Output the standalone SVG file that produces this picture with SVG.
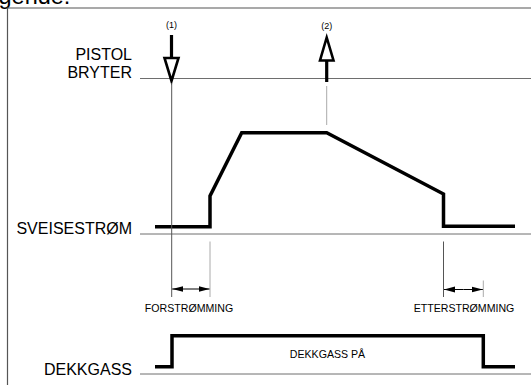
<svg xmlns="http://www.w3.org/2000/svg" width="531" height="385" viewBox="0 0 531 385">
<defs>
<style>
.frame{stroke:#555;stroke-width:1.2;fill:none}
.axis{stroke:#6e6e6e;stroke-width:1;fill:none}
.ext{stroke:#555;stroke-width:1;fill:none}
.ext2{stroke:#aaa;stroke-width:1;fill:none}
.trace{stroke:#000;stroke-width:3.5;fill:none;stroke-linejoin:miter}
.shaft{stroke:#000;stroke-width:3.2;fill:none}
.head{stroke:#000;stroke-width:2.6;fill:#fff;stroke-linejoin:miter}
.dim{stroke:#000;stroke-width:1;fill:none}
.lbl{font-family:"Liberation Sans",Arial,sans-serif;font-size:16px;fill:#000}
.sm{font-family:"Liberation Sans",Arial,sans-serif;font-size:10.6px;fill:#000}
.tiny{font-family:"Liberation Sans",Arial,sans-serif;font-size:9px;fill:#000}
</style>
<marker id="ah" viewBox="0 0 11 7" refX="11" refY="3.5" markerWidth="11" markerHeight="7" markerUnits="userSpaceOnUse" orient="auto">
<path d="M0,0.6 L11,3.5 L0,6.4 Z" fill="#000"/>
</marker>
</defs>
<text x="-1.5" y="4" font-family="Liberation Sans, Arial, sans-serif" font-size="23.5" fill="#000">gende:</text>
<path class="frame" d="M7.5,385 V8 H531"/>
<g id="axes">
<line class="axis" x1="140" y1="78.5" x2="531" y2="78.5"/>
<line class="axis" x1="140" y1="234" x2="531" y2="234"/>
<line class="axis" x1="140" y1="374" x2="531" y2="374"/>
</g>
<g id="labels">
<text class="lbl" x="132" y="60" text-anchor="end">PISTOL</text>
<text class="lbl" x="132" y="78.3" text-anchor="end">BRYTER</text>
<text class="lbl" x="132" y="234.3" text-anchor="end">SVEISESTRØM</text>
<text class="lbl" x="132" y="375" text-anchor="end">DEKKGASS</text>
</g>
<g id="trigger1">
<text class="tiny" x="171.5" y="28" text-anchor="middle">(1)</text>
<line class="shaft" x1="171.5" y1="35" x2="171.5" y2="58"/>
<polygon class="head" points="164.5,58 178.5,58 171.5,81"/>
</g>
<g id="trigger2">
<text class="tiny" x="326.7" y="28.5" text-anchor="middle">(2)</text>
<line class="shaft" x1="326.7" y1="82" x2="326.7" y2="60.5"/>
<polygon class="head" points="320,60.5 333.5,60.5 326.7,37.5"/>
</g>
<g id="current">
<polyline class="trace" points="155,226.7 210,226.7 210,196 241.7,132.7 326.7,132.7 443.5,194 443.5,226.3 515,226.3"/>
</g>
<g id="gas">
<polyline class="trace" points="155,366.7 172,366.7 172,335.7 483.3,335.7 483.3,366.7 515,366.7"/>
<text class="sm" x="327.5" y="358.3" text-anchor="middle">DEKKGASS PÅ</text>
</g>
<g id="connectors">
<line class="ext" x1="171.7" y1="83" x2="171.7" y2="297"/>
<line class="ext2" x1="326.7" y1="86" x2="326.7" y2="125"/>
<line class="ext2" x1="210" y1="241.5" x2="210" y2="297"/>
<line class="ext" x1="443.5" y1="241.5" x2="443.5" y2="297"/>
<line class="ext2" x1="483.3" y1="280.5" x2="483.3" y2="297"/>
<line class="dim" x1="191" y1="289" x2="172.2" y2="289" marker-end="url(#ah)"/>
<line class="dim" x1="191" y1="289" x2="209.5" y2="289" marker-end="url(#ah)"/>
<line class="dim" x1="463.4" y1="289.5" x2="444" y2="289.5" marker-end="url(#ah)"/>
<line class="dim" x1="463.4" y1="289.5" x2="482.8" y2="289.5" marker-end="url(#ah)"/>
</g>
<g id="phases">
<text class="sm" x="189" y="312.3" text-anchor="middle">FORSTRØMMING</text>
<text class="sm" x="464" y="312" text-anchor="middle">ETTERSTRØMMING</text>
</g>
</svg>
